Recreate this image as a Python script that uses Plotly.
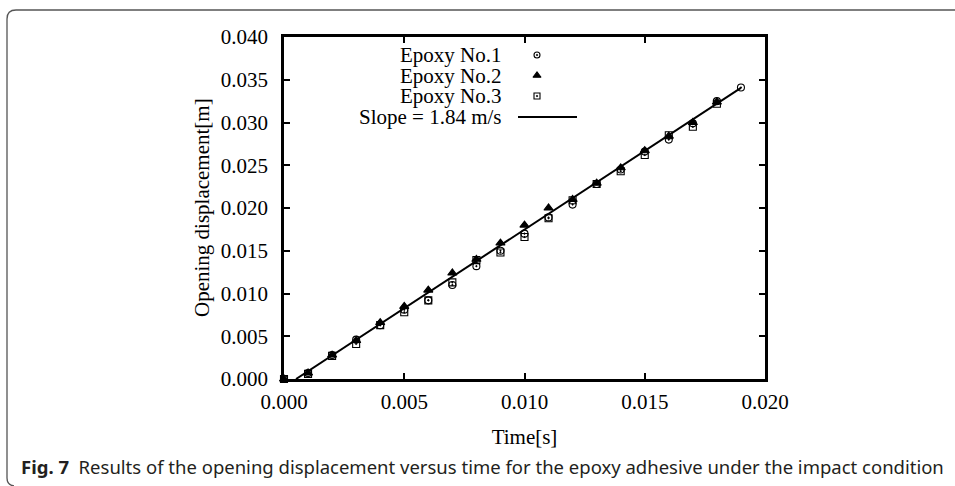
import plotly.graph_objects as go

# ---------------- data ----------------
time_s = [0.000, 0.001, 0.002, 0.003, 0.004, 0.005, 0.006, 0.007, 0.008, 0.009,
          0.010, 0.011, 0.012, 0.013, 0.014, 0.015, 0.016, 0.017, 0.018, 0.019]
epoxy1 = [0.0000, 0.0007, 0.0028, 0.0046, 0.0063, 0.0081, 0.0092, 0.0110, 0.0132, 0.0150,
          0.0170, 0.0189, 0.0204, 0.0228, 0.0245, 0.0266, 0.0280, 0.0299, 0.0325, 0.0341]
epoxy2 = [0.0000, 0.0007, 0.0028, 0.0045, 0.0066, 0.0085, 0.0104, 0.0124, 0.0140, 0.0159,
          0.0180, 0.0200, 0.0210, 0.0229, 0.0247, 0.0267, 0.0284, 0.0300, 0.0324]
epoxy3 = [0.0000, 0.0006, 0.0027, 0.0041, 0.0063, 0.0078, 0.0092, 0.0113, 0.0139, 0.0148,
          0.0166, 0.0188, 0.0209, 0.0228, 0.0243, 0.0262, 0.0285, 0.0295, 0.0322]
slope = 1.84          # m/s
fit_t = [0.0005, 0.019]
fit_y = [slope * (t - fit_t[0]) for t in fit_t]

series_names = ["Epoxy No.1", "Epoxy No.2", "Epoxy No.3"]
fit_name = "Slope = 1.84 m/s"
x_ticks = [0.000, 0.005, 0.010, 0.015, 0.020]
y_ticks = [0.000, 0.005, 0.010, 0.015, 0.020, 0.025, 0.030, 0.035, 0.040]
x_title = "Time[s]"
y_title = "Opening displacement[m]"
caption_bold = "Fig. 7"
caption_text = "Results of the opening displacement versus time for the epoxy adhesive under the impact condition"

# ---------------- layout geometry (pixels) ----------------
W, H = 955, 486
L, R, T, B = 284, 765, 37, 379          # plot area box
pw, ph = R - L, B - T

def px_x(x):
    return (x - L) / pw

def px_y(y):
    return (B - y) / ph

SERIF = "Liberation Serif, Times New Roman, serif"
FS = 21

symbols = ["circle-open-dot", "triangle-up", "square-open-dot"]
sizes = [7, 8, 7]

fig = go.Figure()
for name, ys, sym, sz in zip(series_names, [epoxy1, epoxy2, epoxy3], symbols, sizes):
    fig.add_trace(go.Scatter(
        x=time_s[:len(ys)], y=ys, mode="markers", name=name,
        marker=dict(symbol=sym, size=sz, color="black", line=dict(color="black", width=1.1)),
        cliponaxis=False, showlegend=False))
fig.add_trace(go.Scatter(x=fit_t, y=fit_y, mode="lines", name=fit_name,
                         line=dict(color="black", width=2), showlegend=False, cliponaxis=False))

# ---------------- custom legend (text left of key, gnuplot style) ----------------
leg_rows_px = [55, 75.5, 96, 117]
leg_text_right = px_x(504)
leg_mark_x = px_x(537)
leg_line = [px_x(518), px_x(577)]
for i, (name, sym, sz) in enumerate(zip(series_names, symbols, sizes)):
    yy = px_y(leg_rows_px[i])
    fig.add_trace(go.Scatter(x=[leg_mark_x], y=[yy], xaxis="x2", yaxis="y2", mode="markers",
                             marker=dict(symbol=sym, size=sz - 1, color="black",
                                         line=dict(color="black", width=1.1)),
                             showlegend=False, hoverinfo="skip"))
    fig.add_annotation(x=leg_text_right, y=yy, xref="paper", yref="paper", text=name,
                       showarrow=False, xanchor="right", yanchor="middle",
                       font=dict(family=SERIF, size=FS, color="black"))
yy = px_y(leg_rows_px[3])
fig.add_trace(go.Scatter(x=leg_line, y=[yy, yy], xaxis="x2", yaxis="y2", mode="lines",
                         line=dict(color="black", width=2), showlegend=False, hoverinfo="skip"))
fig.add_annotation(x=leg_text_right, y=yy, xref="paper", yref="paper", text=fit_name,
                   showarrow=False, xanchor="right", yanchor="middle",
                   font=dict(family=SERIF, size=FS, color="black"))

# ---------------- y-axis title ----------------
fig.add_annotation(x=px_x(202), y=0.5, xref="paper", yref="paper", text=y_title,
                   textangle=-90, showarrow=False, xanchor="center", yanchor="middle",
                   font=dict(family=SERIF, size=FS, color="black"))

# ---------------- caption ----------------
fig.add_annotation(x=px_x(19), y=px_y(466), xref="paper", yref="paper",
                   text="<b>" + caption_bold + "</b>  " + caption_text,
                   showarrow=False, xanchor="left", yanchor="middle",
                   font=dict(family="Noto Sans, Open Sans, sans-serif", size=18.5, color="#231f20"))

# ---------------- frame around figure ----------------
frame_path = (f"M {px_x(955)},{px_y(10)} L {px_x(16)},{px_y(10)} "
              f"Q {px_x(7)},{px_y(10)} {px_x(7)},{px_y(19)} "
              f"L {px_x(7)},{px_y(478)} Q {px_x(7)},{px_y(485)} {px_x(14)},{px_y(486)}")
fig.add_shape(type="path", path=frame_path, xref="paper", yref="paper",
              line=dict(color="#555555", width=1.3))

axis_common = dict(showline=True, linecolor="black", linewidth=2.5, mirror="ticks",
                   ticks="inside", ticklen=6, tickwidth=1.5, tickcolor="black",
                   showgrid=False, zeroline=False, tickformat=".3f",
                   tickfont=dict(family=SERIF, size=FS, color="black"))

fig.update_layout(
    width=W, height=H,
    margin=dict(l=L, r=W - R, t=T, b=H - B, autoexpand=False),
    paper_bgcolor="white", plot_bgcolor="white",
    xaxis=dict(range=[0, 0.02], tickvals=x_ticks, ticklabelstandoff=2,
               title=dict(text=x_title, font=dict(family=SERIF, size=FS, color="black"), standoff=17),
               **axis_common),
    yaxis=dict(range=[0, 0.04], tickvals=y_ticks, ticklabelstandoff=9, **axis_common),
    xaxis2=dict(overlaying="x", range=[0, 1], visible=False),
    yaxis2=dict(overlaying="y", range=[0, 1], visible=False),
    showlegend=False,
)

fig.write_html("out.html", config={"displayModeBar": False},
               post_script="document.body.style.margin='0';document.body.style.padding='0';")
